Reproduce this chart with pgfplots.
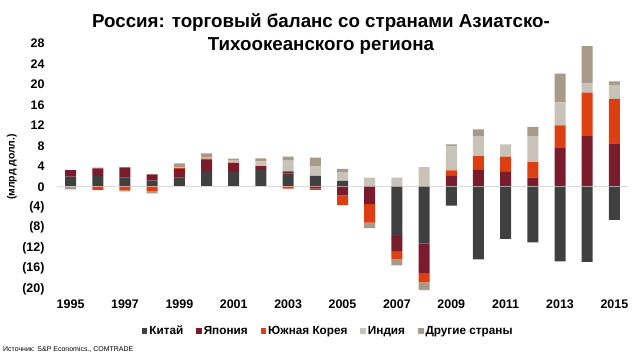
\documentclass[border=0pt]{standalone}
\usepackage{fontspec}
\setmainfont{Liberation Sans}
\usepackage{pgfplots}
\usepackage{pgfplotstable}
\pgfplotsset{compat=1.18}
\definecolor{cchina}{HTML}{404040}
\definecolor{cjapan}{HTML}{7A1C2B}
\definecolor{ckorea}{HTML}{DD3E12}
\definecolor{cindia}{HTML}{C9C2B6}
\definecolor{cother}{HTML}{A89A88}
\definecolor{czero}{HTML}{DADADA}

\pgfplotstableread{
year  china  japan  korea  india  others
1995   2.0    1.25   0.0    0.0   -0.5
1996   2.1    1.5   -0.6    0.2    0.0
1997   1.8    2.0   -0.7    0.0   -0.2
1998   1.2    1.2   -0.8    0.0   -0.5
1999   1.8    1.65   0.2    0.2    0.7
2000   3.1    2.1    0.3    0.2    0.8
2001   2.9    1.7    0.1    0.4    0.4
2002   3.25   0.8    0.0    0.9    0.6
2003   2.6    0.4   -0.35   2.1    0.8
2004   2.1   -0.3   -0.3    1.9    1.7
2005   1.15  -1.7   -1.9    1.6    0.75
2006   0.0   -3.4   -3.6    1.8   -1.1
2007  -9.6   -3.0   -1.6    1.8   -1.2
2008 -11.1   -5.9   -1.7    3.85  -1.5
2009  -3.7    2.1    1.1    4.8    0.3
2010 -14.2    3.3    2.7    3.8    1.4
2011 -10.2    2.9    3.0    2.4    0.0
2012 -10.9    1.8    3.0    5.1    1.8
2013 -14.6    7.7    4.3    4.5    5.6
2014 -14.7    9.9    8.5    1.9    7.2
2015  -6.5    8.5    8.7    2.7    0.7
}\data

\pgfplotsset{
  base/.style={
    at={(57bp,63.3bp)}, anchor=south west,
    scale only axis, width=571bp, height=258.3bp,
    xmin=1994.5, xmax=2015.5, ymin=-21.5, ymax=29,
    ybar stacked, bar width=11bp,
    axis line style={draw=none},
    major tick length=0pt,
    every axis plot/.append style={draw=none},
  },
}

\begin{document}
\begin{tikzpicture}
\path[use as bounding box] (0,0) rectangle (640bp,360bp);

\begin{axis}[base,
  xtick={1995,1997,...,2015},
  xticklabels={1995,1997,1999,2001,2003,2005,2007,2009,2011,2013,2015},
  ytick={-20,-16,...,28},
  yticklabels={(20),(16),(12),(8),(4),0,4,8,12,16,20,24,28},
  tick label style={font=\bfseries\fontsize{12.5}{14}\selectfont},
  yticklabel style={xshift=-9bp},
  legend style={at={(0.475,-0.133)}, anchor=center, draw=none, fill=none,
    legend columns=-1, font=\bfseries\fontsize{11.8}{13}\selectfont,
    /tikz/every even column/.append style={column sep=11bp},
    inner sep=0pt},
  legend image code/.code={\fill[#1,draw=none] (0.5bp,-2.8bp) rectangle (6bp,2.8bp);},
]
\draw[czero, line width=0.8bp] (axis cs:1994.5,0) -- (axis cs:2015.5,0);
\addplot[fill=cchina] table[x=year, y expr={max(\thisrow{china},0)}] {\data};
\addplot[fill=cjapan] table[x=year, y expr={max(\thisrow{japan},0)}] {\data};
\addplot[fill=ckorea] table[x=year, y expr={max(\thisrow{korea},0)}] {\data};
\addplot[fill=cindia] table[x=year, y expr={max(\thisrow{india},0)}] {\data};
\addplot[fill=cother] table[x=year, y expr={max(\thisrow{others},0)}] {\data};
\legend{Китай,Япония,Южная Корея,Индия,Другие страны}
\end{axis}

\begin{axis}[base, hide axis]
\addplot[fill=cchina] table[x=year, y expr={min(\thisrow{china},0)}] {\data};
\addplot[fill=cjapan] table[x=year, y expr={min(\thisrow{japan},0)}] {\data};
\addplot[fill=ckorea] table[x=year, y expr={min(\thisrow{korea},0)}] {\data};
\addplot[fill=cindia] table[x=year, y expr={min(\thisrow{india},0)}] {\data};
\addplot[fill=cother] table[x=year, y expr={min(\thisrow{others},0)}] {\data};
\end{axis}

\node[font=\bfseries\fontsize{18.8}{23}\selectfont, align=center] at (321bp,326bp)
  {Россия: торговый баланс со странами Азиатско-\\Тихоокеанского региона};
\node[rotate=90, font=\bfseries\fontsize{10.5}{12}\selectfont] at (12bp,193bp) {(млрд долл.)};
\node[anchor=west, font=\fontsize{7}{8}\selectfont, inner sep=0pt] at (3bp,11bp)
  {Источник: S\&P Economics., COMTRADE};
\end{tikzpicture}
\end{document}
